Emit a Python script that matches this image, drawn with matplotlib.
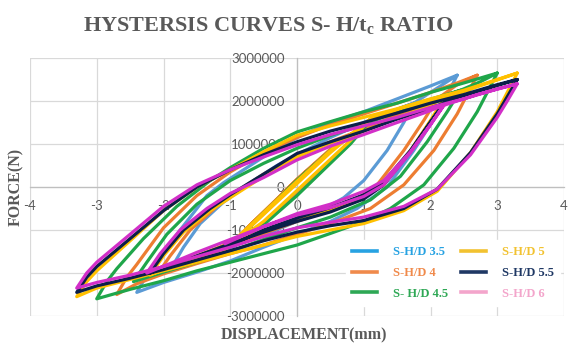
import numpy as np
import matplotlib
matplotlib.use("Agg")
import matplotlib.pyplot as plt
from matplotlib.lines import Line2D
from matplotlib.ticker import FuncFormatter

plt.rcParams["axes.unicode_minus"] = False

# series names (legend order)
rotulos = ["S-H/D 3.5", "S-H/D 4", "S- H/D 4.5", "S-H/D 5", "S-H/D 5.5", "S-H/D 6"]

# (displacement mm, force MN), one path per series
pts_35 = [(-1.00, -1.45), (-0.70, -0.90), (-0.30, -0.30), (0.00, 0.15), (0.50, 0.85), (1.05, 1.50),
          (0.75, 1.00), (0.35, 0.40), (0.00, -0.15), (-0.50, -0.85), (-1.00, -1.45),
          (-0.65, -0.85), (-0.25, -0.25), (0.05, 0.20), (0.55, 0.90), (1.05, 1.50),
          (1.40, 1.75), (1.75, 1.95),
          (1.60, 1.50), (1.35, 0.85), (1.00, 0.15), (0.70, -0.25), (0.30, -0.60), (0.00, -0.80),
          (-0.50, -1.12), (-1.00, -1.40), (-1.50, -1.62), (-1.85, -1.80),
          (-1.70, -1.40), (-1.45, -0.85), (-1.10, -0.35), (-0.70, 0.10), (-0.30, 0.50), (0.00, 0.75),
          (0.50, 1.15), (1.00, 1.50), (1.40, 1.75), (1.75, 1.95),
          (2.10, 2.30), (2.40, 2.60),
          (2.25, 2.15), (2.10, 1.70), (1.75, 0.85), (1.35, 0.00), (0.90, -0.50), (0.50, -0.80),
          (0.00, -1.10), (-0.50, -1.40), (-1.00, -1.72), (-1.50, -1.98), (-2.00, -2.22), (-2.40, -2.45),
          (-2.25, -2.05), (-2.10, -1.75), (-1.75, -1.00), (-1.35, -0.20), (-1.10, 0.10), (-0.50, 0.70),
          (0.00, 1.15), (0.50, 1.50), (1.00, 1.75), (1.50, 2.05), (2.00, 2.35), (2.40, 2.60)]

pts_40 = [(-1.05, -1.45), (-0.70, -0.88), (-0.30, -0.28), (0.00, 0.18), (0.50, 0.88), (1.10, 1.55),
          (0.80, 1.02), (0.40, 0.42), (0.00, -0.18), (-0.50, -0.85), (-1.05, -1.45),
          (-0.68, -0.85), (-0.28, -0.25), (0.03, 0.22), (0.55, 0.92), (1.10, 1.55),
          (1.60, 1.82), (2.10, 2.05),
          (1.90, 1.55), (1.60, 0.85), (1.20, 0.05), (0.90, -0.28), (0.50, -0.55), (0.00, -0.80),
          (-0.50, -1.08), (-1.00, -1.38), (-1.50, -1.68), (-1.80, -1.85), (-2.10, -2.05),
          (-1.90, -1.60), (-1.60, -1.00), (-1.20, -0.45), (-0.90, -0.10), (-0.50, 0.30), (0.00, 0.72),
          (0.50, 1.05), (1.00, 1.35), (1.50, 1.68), (1.80, 1.85), (2.10, 2.05),
          (2.40, 2.38), (2.70, 2.60),
          (2.55, 2.15), (2.40, 1.70), (2.05, 0.85), (1.60, 0.05), (1.10, -0.50), (0.50, -0.85),
          (0.00, -1.10), (-0.50, -1.35), (-1.00, -1.55), (-1.50, -1.78), (-2.00, -2.02), (-2.40, -2.25),
          (-2.70, -2.50),
          (-2.55, -2.10), (-2.40, -1.80), (-2.00, -0.95), (-1.50, -0.20), (-1.00, 0.35), (-0.50, 0.80),
          (0.00, 1.15), (0.50, 1.45), (1.00, 1.70), (1.50, 1.95), (2.00, 2.20), (2.40, 2.42), (2.70, 2.60)]

pts_45 = [(-1.05, -1.45), (-0.70, -0.90), (-0.30, -0.30), (0.00, 0.15), (0.50, 0.85), (1.10, 1.55),
          (0.80, 1.00), (0.40, 0.40), (0.00, -0.20), (-0.50, -0.88), (-1.05, -1.45),
          (-0.68, -0.88), (-0.28, -0.28), (0.03, 0.20), (0.55, 0.90), (1.10, 1.55),
          (1.70, 1.90), (2.45, 2.25),
          (2.25, 1.75), (1.95, 1.05), (1.55, 0.25), (1.10, -0.30), (0.50, -0.70), (0.00, -0.95),
          (-0.50, -1.22), (-1.00, -1.50), (-1.50, -1.75), (-2.00, -1.98), (-2.45, -2.20),
          (-2.25, -1.75), (-1.95, -1.10), (-1.50, -0.40), (-1.00, 0.15), (-0.50, 0.55), (0.00, 0.90),
          (0.50, 1.20), (1.00, 1.45), (1.50, 1.75), (2.00, 2.00), (2.45, 2.25),
          (2.75, 2.45), (3.00, 2.65),
          (2.85, 2.20), (2.70, 1.75), (2.35, 0.90), (1.90, 0.05), (1.40, -0.50), (1.00, -0.80),
          (0.50, -1.08), (0.00, -1.35), (-0.50, -1.55), (-1.00, -1.75), (-1.50, -1.95), (-2.00, -2.18),
          (-2.50, -2.38), (-3.00, -2.60),
          (-2.85, -2.20), (-2.70, -1.90), (-2.30, -1.20), (-1.80, -0.45), (-1.30, 0.15), (-1.00, 0.45),
          (-0.50, 0.90), (0.00, 1.28), (0.50, 1.52), (1.00, 1.75), (1.50, 1.95), (2.00, 2.20),
          (2.50, 2.42), (3.00, 2.65)]

pts_50 = [(-1.12, -1.50), (-0.75, -1.00), (-0.35, -0.42), (0.00, 0.08), (0.50, 0.80), (1.10, 1.58),
          (0.80, 1.08), (0.40, 0.50), (0.00, -0.08), (-0.50, -0.80), (-1.12, -1.50),
          (-0.72, -0.92), (-0.30, -0.30), (0.03, 0.18), (0.55, 0.92), (1.10, 1.58),
          (1.60, 1.85), (2.20, 2.05),
          (2.00, 1.55), (1.70, 0.85), (1.30, 0.05), (1.00, -0.25), (0.50, -0.55), (0.00, -0.78),
          (-0.50, -1.02), (-1.00, -1.30), (-1.50, -1.60), (-1.90, -1.85), (-2.20, -2.05),
          (-2.00, -1.60), (-1.70, -1.05), (-1.30, -0.55), (-1.00, -0.25), (-0.50, 0.25), (0.00, 0.70),
          (0.50, 1.02), (1.00, 1.30), (1.50, 1.60), (1.90, 1.85), (2.20, 2.05),
          (2.70, 2.33), (3.30, 2.65),
          (3.15, 2.20), (3.00, 1.75), (2.60, 0.80), (2.10, -0.10), (1.60, -0.55), (1.00, -0.85),
          (0.50, -1.00), (0.00, -1.15), (-0.50, -1.35), (-1.00, -1.55), (-1.50, -1.75), (-2.00, -1.95),
          (-2.50, -2.15), (-3.00, -2.35), (-3.30, -2.55),
          (-3.15, -2.20), (-3.00, -1.95), (-2.50, -1.25), (-2.00, -0.55), (-1.50, 0.00), (-1.00, 0.40),
          (-0.50, 0.82), (0.00, 1.20), (0.50, 1.42), (1.00, 1.62), (1.50, 1.82), (2.00, 2.05),
          (2.50, 2.25), (3.00, 2.50), (3.30, 2.65)]

pts_55 = [(-1.08, -1.42), (-0.50, -1.00), (0.00, -0.72), (0.50, -0.48), (1.00, -0.18), (1.30, 0.12),
          (1.70, 0.85), (2.00, 1.52), (2.20, 1.95),
          (2.00, 1.50), (1.70, 0.82), (1.30, 0.05), (1.00, -0.28), (0.50, -0.58), (0.00, -0.80),
          (-0.50, -1.05), (-1.00, -1.32), (-1.50, -1.60), (-1.90, -1.82), (-2.20, -2.00),
          (-2.00, -1.55), (-1.70, -1.00), (-1.30, -0.50), (-1.00, -0.18), (-0.50, 0.30), (0.00, 0.78),
          (0.50, 1.05), (1.00, 1.30), (1.50, 1.58), (1.90, 1.78), (2.20, 1.95),
          (2.70, 2.22), (3.30, 2.50),
          (3.15, 2.10), (3.00, 1.70), (2.60, 0.80), (2.10, -0.05), (1.60, -0.50), (1.00, -0.78),
          (0.50, -0.90), (0.00, -1.05), (-0.50, -1.25), (-1.00, -1.48), (-1.50, -1.70), (-2.00, -1.92),
          (-2.50, -2.12), (-3.00, -2.30), (-3.30, -2.45),
          (-3.15, -2.10), (-3.00, -1.85), (-2.50, -1.20), (-2.00, -0.55), (-1.50, 0.00), (-1.00, 0.40),
          (-0.50, 0.75), (0.00, 1.05), (0.50, 1.30), (1.00, 1.50), (1.50, 1.72), (2.00, 1.95),
          (2.50, 2.15), (3.00, 2.38), (3.30, 2.50)]

pts_60 = [(-1.08, -1.32), (-0.50, -0.92), (0.00, -0.62), (0.50, -0.40), (1.00, -0.10), (1.30, 0.15),
          (1.70, 0.82), (2.00, 1.45), (2.20, 1.90),
          (2.00, 1.45), (1.70, 0.80), (1.30, 0.05), (1.00, -0.22), (0.50, -0.48), (0.00, -0.65),
          (-0.50, -0.92), (-1.00, -1.22), (-1.50, -1.52), (-1.90, -1.78), (-2.25, -2.00),
          (-2.05, -1.55), (-1.75, -1.00), (-1.35, -0.50), (-1.00, -0.15), (-0.50, 0.22), (0.00, 0.63),
          (0.50, 0.95), (1.00, 1.22), (1.50, 1.50), (1.90, 1.72), (2.20, 1.90),
          (2.70, 2.15), (3.30, 2.40),
          (3.15, 2.00), (3.00, 1.62), (2.60, 0.75), (2.10, -0.05), (1.60, -0.45), (1.00, -0.70),
          (0.50, -0.82), (0.00, -0.95), (-0.50, -1.15), (-1.00, -1.40), (-1.50, -1.62), (-2.00, -1.85),
          (-2.50, -2.05), (-3.00, -2.22), (-3.30, -2.35),
          (-3.15, -2.00), (-3.00, -1.75), (-2.50, -1.10), (-2.00, -0.45), (-1.50, 0.05), (-1.00, 0.40),
          (-0.50, 0.70), (0.00, 0.98), (0.50, 1.22), (1.00, 1.42), (1.50, 1.62), (2.00, 1.85),
          (2.50, 2.05), (3.00, 2.28), (3.30, 2.40)]

x_ticks = [-4, -3, -2, -1, 0, 1, 2, 3, 4]
y_ticks = [-3000000, -2000000, -1000000, 0, 1000000, 2000000, 3000000]

COR_LINHA = ["#5B9BD5", "#ED7D31", "#1FA64A", "#FFC000", "#0B1F4A", "#D22FC8"]
COR_LEG = ["#27A2E2", "#F08A4B", "#2EA855", "#F2C230", "#1F3864", "#F3A5CB"]
CINZA = "#595959"
SERIF = ["Liberation Serif", "DejaVu Serif"]

fig = plt.figure(figsize=(5.69, 3.45), dpi=100)
ax = fig.add_axes([30 / 569, 1 - 316 / 345, 534 / 569, 258 / 345])

for pts, cor in zip([pts_35, pts_40, pts_45, pts_50, pts_55, pts_60], COR_LINHA):
    arr = np.array(pts)
    ax.plot(arr[:, 0], arr[:, 1] * 1e6, color=cor, lw=2.3,
            solid_joinstyle="round", solid_capstyle="round")

ax.set_xlim(-4, 4)
ax.set_ylim(-3000000, 3000000)
ax.set_xticks(x_ticks)
ax.set_yticks(y_ticks)
ax.yaxis.set_major_formatter(FuncFormatter(lambda v, p: f"{v:.0f}"))
ax.grid(color="#D9D9D9", lw=0.9)
ax.set_axisbelow(True)
for s in ["top", "right"]:
    ax.spines[s].set_visible(False)
ax.spines["left"].set_position(("data", 0))
ax.spines["bottom"].set_position(("data", 0))
for s in ["left", "bottom"]:
    ax.spines[s].set_color("#BFBFBF")
    ax.spines[s].set_linewidth(0.9)
    ax.spines[s].set_zorder(0.6)
ax.tick_params(length=0, labelsize=9.5, labelcolor=CINZA, pad=9)
for lab in ax.get_xticklabels() + ax.get_yticklabels():
    lab.set_family("Lato")

h = [Line2D([0], [0], color=c, lw=2.6) for c in COR_LEG]
leg = ax.legend(h, rotulos, loc="lower right", bbox_to_anchor=(1.005, 0.015), ncol=2,
                prop={"family": SERIF, "weight": "bold", "size": 9},
                labelcolor=COR_LEG, frameon=True, facecolor="white", edgecolor="white",
                framealpha=1, fancybox=False, handlelength=2.0, handletextpad=1.3,
                columnspacing=1.0, labelspacing=0.7, borderpad=0.5)

fig.text(0.471, 0.925, r"HYSTERSIS CURVES S- H/t$\mathregular{_c}$ RATIO", ha="center",
         va="center", family=SERIF, weight="bold", size=16, color=CINZA)
fig.text(16 / 569, 1 - 187 / 345, "FORCE(N)", rotation=90, ha="center", va="center",
         family=SERIF, weight="bold", size=11.5, color=CINZA)
fig.text(0.535, 1 - 335 / 345, "DISPLACEMENT(mm)", ha="center", va="center",
         family=SERIF, weight="bold", size=11.5, color=CINZA)

fig.savefig("out.png", dpi=100)
